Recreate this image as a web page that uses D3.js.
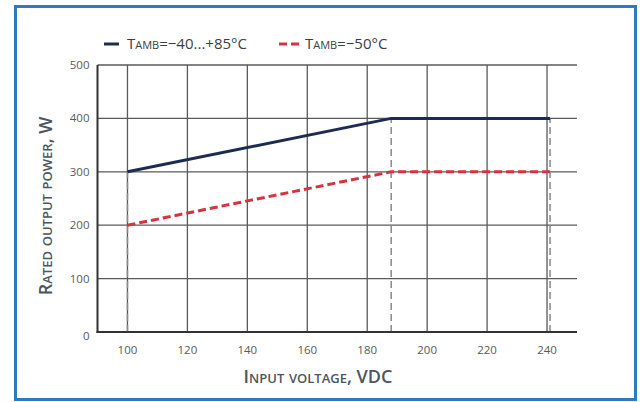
<!DOCTYPE html>
<html>
<head>
<meta charset="utf-8">
<script src="https://cdn.jsdelivr.net/npm/d3@7"></script>
<style>
  body { margin: 0; background: #fff; }
  svg { display: block; }
  .tick-label { font-family: "Open Sans", sans-serif; font-size: 11.5px; fill: #5a5a5a; }
  .axis-title { font-family: "Open Sans", sans-serif; font-weight: 600; fill: #4b5660; font-variant: small-caps; }
  .legend-text { font-family: "Open Sans", sans-serif; font-size: 15px; fill: #3a3f45; font-variant: small-caps; }
</style>
</head>
<body>
<svg id="canvas"></svg>
<script>
// data
const xTicks = [100, 120, 140, 160, 180, 200, 220, 240];
const yTicks = [0, 100, 200, 300, 400, 500];
const seriesNames = ["Tamb=\u221240...+85\u00b0C", "Tamb=\u221250\u00b0C"];
const voltage = [100, 188, 241];
const powerNormal = [300, 400, 400];
const powerCold = [200, 300, 300];
const markerVoltages = [100, 188, 241];
const markerTops = [300, 400, 400];

const width = 640;
const height = 402;
const margin = { top: 65, right: 63, bottom: 70, left: 97.5 };

const svg = d3.select("#canvas")
    .attr("width", width)
    .attr("height", height);

// blue frame
svg.append("rect")
    .attr("x", 15.5)
    .attr("y", 6.5)
    .attr("width", 620)
    .attr("height", 393)
    .attr("fill", "none")
    .attr("stroke", "#2d7bbd")
    .attr("stroke-width", 3);

const x = d3.scaleLinear()
    .domain([90, 250])
    .range([margin.left, width - margin.right]);

const y = d3.scaleLinear()
    .domain([0, 500])
    .range([height - margin.bottom, margin.top]);

const g = svg.append("g");

// grid
g.selectAll(".hgrid")
    .data(yTicks.filter(d => d > 0))
    .enter()
    .append("line")
    .attr("x1", x(90))
    .attr("x2", x(250))
    .attr("y1", d => y(d))
    .attr("y2", d => y(d))
    .attr("stroke", "#5a5a5a")
    .attr("stroke-width", 1.3);

g.selectAll(".vgrid")
    .data(xTicks)
    .enter()
    .append("line")
    .attr("x1", d => x(d))
    .attr("x2", d => x(d))
    .attr("y1", y(0))
    .attr("y2", y(500))
    .attr("stroke", "#5a5a5a")
    .attr("stroke-width", 1.3);

// grey dashed drop lines
g.selectAll(".drop")
    .data(markerVoltages.map((v, i) => ({ v: v, top: markerTops[i] })))
    .enter()
    .append("line")
    .attr("x1", d => x(d.v))
    .attr("x2", d => x(d.v))
    .attr("y1", y(0))
    .attr("y2", d => y(d.top))
    .attr("stroke", "#8a8a8a")
    .attr("stroke-width", 1.5)
    .attr("stroke-dasharray", "7,4");

// axes lines
g.append("line")
    .attr("x1", x(90)).attr("x2", x(90))
    .attr("y1", y(0) + 1).attr("y2", y(500))
    .attr("stroke", "#333").attr("stroke-width", 2);
g.append("line")
    .attr("x1", x(90) - 1).attr("x2", x(250))
    .attr("y1", y(0)).attr("y2", y(0))
    .attr("stroke", "#333").attr("stroke-width", 2);

// tick labels
g.selectAll(".ylab")
    .data(yTicks)
    .enter()
    .append("text")
    .attr("class", "tick-label")
    .attr("x", x(90) - 8)
    .attr("y", d => y(d) + (d === 0 ? 8 : 4))
    .attr("text-anchor", "end")
    .text(d => d);

g.selectAll(".xlab")
    .data(xTicks)
    .enter()
    .append("text")
    .attr("class", "tick-label")
    .attr("x", d => x(d))
    .attr("y", y(0) + 22)
    .attr("text-anchor", "middle")
    .text(d => d);

// series
const line = d3.line()
    .x((d, i) => x(voltage[i]))
    .y(d => y(d));

g.append("path")
    .datum(powerNormal)
    .attr("d", line)
    .attr("fill", "none")
    .attr("stroke", "#1e2b50")
    .attr("stroke-width", 3);

g.append("path")
    .datum(powerCold)
    .attr("d", line)
    .attr("fill", "none")
    .attr("stroke", "#d8333d")
    .attr("stroke-width", 3)
    .attr("stroke-dasharray", "8,4");

// axis titles
svg.append("text")
    .attr("class", "axis-title")
    .attr("x", 318)
    .attr("y", 383)
    .attr("text-anchor", "middle")
    .style("font-size", "18px")
    .text("Input voltage, VDC");

svg.append("text")
    .attr("class", "axis-title")
    .attr("transform", "translate(52,206) rotate(-90)")
    .attr("text-anchor", "middle")
    .style("font-size", "18px")
    .text("Rated output power, W");

// legend
const legend = svg.append("g");

legend.append("line")
    .attr("x1", 104).attr("x2", 119)
    .attr("y1", 44).attr("y2", 44)
    .attr("stroke", "#1e2b50").attr("stroke-width", 3);

legend.append("text")
    .attr("class", "legend-text")
    .attr("x", 127)
    .attr("y", 49)
    .text(seriesNames[0]);

legend.append("line")
    .attr("x1", 279).attr("x2", 299)
    .attr("y1", 44).attr("y2", 44)
    .attr("stroke", "#d8333d").attr("stroke-width", 3)
    .attr("stroke-dasharray", "8,4");

legend.append("text")
    .attr("class", "legend-text")
    .attr("x", 305)
    .attr("y", 49)
    .text(seriesNames[1]);
</script>
</body>
</html>
